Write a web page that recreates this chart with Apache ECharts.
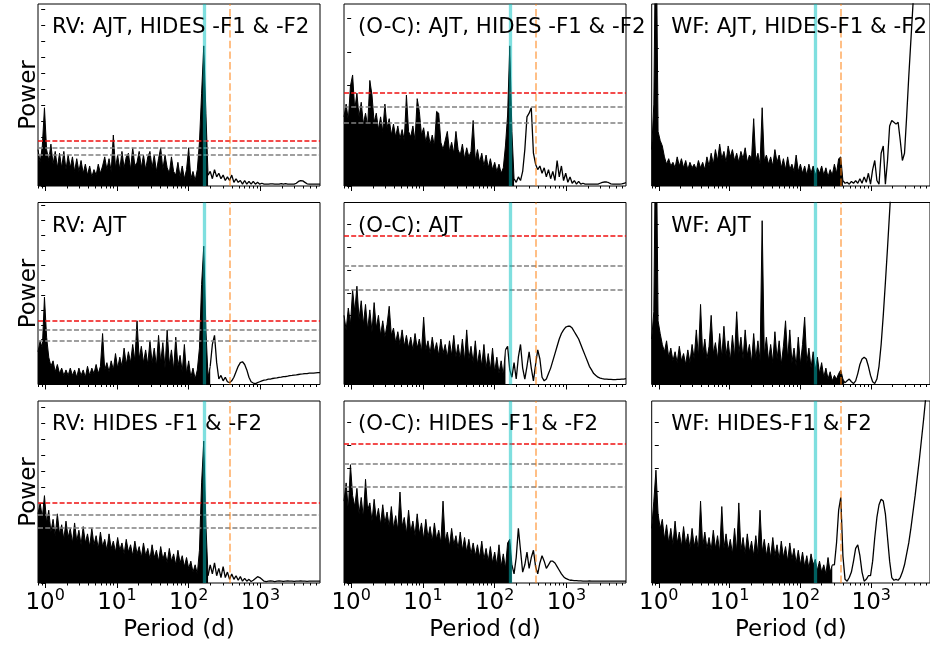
<!DOCTYPE html>
<html>
<head>
<meta charset="utf-8">
<script src="https://cdn.jsdelivr.net/npm/echarts@6/dist/echarts.min.js"></script>
<style>
  html, body { margin: 0; padding: 0; background: #fff; }
  #chart { width: 930px; height: 647px; }
</style>
</head>
<body>
<div id="chart"></div>
<script>
// GLS periodograms, each sampled on a uniform grid in log10(period / d):
// sample i sits at log10 P = LOGP_START + i * LOGP_STEP.
const LOGP_START = -0.1;
const LOGP_STEP = 0.03;
const LOGP_MIN = -0.1;
const LOGP_MAX = 3.83;

// Relative power (per cent of the plotted range) for every panel.
const rvAllPower = [
  20,13,22,43,20,14,23,12,19,10, 18,10,19,9,17,10,16,8,15,8,
  14,7,12,6,11,5,9,6,12,7, 11,16,9,15,8,28,10,17,9,19,
  10,16,18,9,21,11,13,19,10,17, 9,16,19,10,17,8,15,21,9,17,
  10,7,16,8,6,13,5,11,4,9, 21,4,8,3,9,24,51,77,40,6,
  8,4,9,5,7,4,6,3,5,3, 6,2,4,2,3,1,3,1,2.5,1,
  2.5,1,2,1,1.5,1,1,1,1.2,1.2, 1,1,1,1.3,1,1.3,1,1,1,1,
  1.5,2.5,3,2.8,2,1.2,1,1,1,1, 1,1
];
const ocAllPower = [
  38,45,36,55,61,42,51,38,46,34, 40,33,58,50,35,40,31,38,30,45,
  32,37,28,34,27,33,26,31,25,50, 30,27,33,25,48,41,28,32,24,30,
  23,28,22,41,40,24,20,25,30,19, 24,18,30,20,17,23,15,21,16,19,
  36,14,20,13,18,11,17,10,15,9, 13,8,12,7,10,22,39,77,30,4,
  2,5,3,8,20,38,40,43,18,12, 9,11,7,10,5,9,4,8,3,14,
  5,11,3,7,2,5,1.5,3,1,2.5, 1,1.5,1,1,1,1,1,1,1,1.5,
  2,2.2,2.2,1.8,1.2,1,1,1,1,1.2, 1.5,1.8
];
const wfAllPower = [
  20,45,160,30,25,22,16,12,15,11, 13,10,16,11,15,10,14,9,13,10,
  12,9,14,10,13,9,16,11,18,12, 20,14,23,15,19,13,22,16,20,14,
  18,13,19,15,21,13,17,15,37,14, 18,12,43,14,17,12,16,11,20,13,
  17,10,15,9,16,9,12,8,17,8, 12,7,11,6,12,7,11,6,10,7,
  11,6,10,5,9,6,12,7,15,16, 3,1.5,2,1,2.5,1.5,3,1.5,4,1.5,
  5,2,7,1,9,14,3,1,18,22, 1,14,33,36,35,34,35,25,14,18,
  38,60,80,100,125,150,180,210,240,270, 300,330
];
const rvAjtPower = [
  18,24,20,48,26,15,10,13,7,11, 6,9,5,8,5,9,5,8,4,9,
  5,8,4,10,5,9,6,11,6,10, 28,8,12,7,13,8,17,9,15,10,
  20,11,18,12,22,13,35,14,21,12, 19,11,24,12,20,10,27,12,23,9,
  30,11,19,8,26,10,16,7,22,6, 13,4,9,3,8,20,55,76,30,4,
  10,22,27,12,3,5,2,4,1.5,1, 2,4,7,10,12,12.5,11,8,4,1.5,
  0.8,0.5,1,1.5,2,2.4,2.6,2.9,3,3.3, 3.5,3.6,3.9,4,4.3,4.4,4.6,4.9,5,5.2,
  5.3,5.5,5.7,5.8,6,6,6.2,6.3,6.3,6.4, 6.5,6.5
];
const ocAjtPower = [
  38,30,42,33,52,40,54,36,46,33, 44,30,41,29,45,31,38,27,35,26,
  33,43,27,31,23,29,22,30,21,27, 20,26,19,28,20,25,18,37,19,24,
  17,26,18,23,16,25,17,22,15,24, 16,27,15,22,14,25,13,30,14,21,
  12,24,11,19,10,22,9,17,8,20, 7,15,6,13,5,19,21,8,4,12,
  3,15,22,9,3,10,18,9,2,11, 19,14,4,2,3,6,9,13,17,21,
  25,28,30,31.5,32,32,31,29,27,25, 22,19,16,13,10,8,6,5,4,3.5,
  3.2,3,3,2.8,2.8,2.7,2.7,2.8,2.8,3, 3,3.2
];
const wfAjtPower = [
  25,40,160,35,28,22,18,24,15,20, 13,18,12,21,13,17,11,19,12,22,
  14,30,15,44,16,25,14,21,38,17, 23,14,28,15,32,16,24,13,27,15,
  40,17,26,14,30,16,22,12,28,14, 24,13,90,16,26,13,22,12,29,14,
  24,11,21,35,14,30,12,20,10,26, 11,22,37,12,20,9,18,8,15,6,
  12,4,9,3,7,2,5,3,6,8, 3,1,2,3,1.5,0.5,2,6,11,14,
  15,14,10,5,1.5,0.5,3,10,22,38, 56,75,95,115,135,150,170,190,210,230,
  250,270,290,310,330,350,370,390,410,430, 450,470
];
const rvHidesPower = [
  38,44,36,48,33,40,28,35,26,38, 27,32,24,34,25,30,22,33,23,29,
  21,31,22,27,20,30,21,26,19,28, 20,24,18,27,19,23,17,25,18,22,
  16,24,17,21,15,23,16,20,14,22, 15,19,13,21,14,18,12,20,13,17,
  11,19,12,16,10,18,11,15,9,14, 8,12,6,10,5,18,55,78,32,4,
  10,5,11,4,8,3,9,3,6,2, 5,2,4,1.5,3.5,1,2.5,1,2,0.8,
  1.5,2.5,3.5,3,2,1,0.8,1,1.2,1, 0.8,1,1.1,1,0.9,1,1.1,1,1,0.9,
  1,1,1.1,1,1,0.9,1,1,1,1, 1,1
];
const ocHidesPower = [
  45,55,40,65,48,42,52,38,47,36, 57,40,44,34,46,35,41,32,43,33,
  39,31,42,30,37,29,50,31,36,27, 40,28,34,26,38,27,33,24,35,25,
  31,23,33,24,29,22,45,23,28,20, 30,21,26,19,28,18,25,17,24,16,
  22,15,21,14,23,13,19,12,20,11, 17,10,21,9,16,8,22,24,10,5,
  14,30,18,6,10,17,8,14,18,9, 5,11,15,12,8,10,12,12,11,9,
  7,5,3.5,2.5,2,1.5,1.5,1.3,1.3,1.2, 1.2,1,1,1,1.1,1,1,1,1,1,
  1,1,1,1,1,1,1,1,1,1, 1,1
];
const wfHidesPower = [
  30,45,62,38,30,35,24,32,22,30, 21,34,22,28,20,31,21,27,19,30,
  20,26,18,45,20,28,19,25,18,29, 19,26,17,42,19,27,18,24,16,30,
  17,44,18,25,16,27,17,23,15,26, 16,40,17,24,15,22,14,25,15,21,
  13,23,14,20,12,22,13,19,11,18, 10,17,9,15,8,16,10,13,7,12,
  6,10,5,14,6,10,10,22,40,47, 15,2,1,3,6,12,19,21,15,6,
  1,2,4,4,12,25,36,43,46,45, 38,25,12,3,1.5,2,1.5,3,6,10,
  16,22,30,39,48,58,68,79,90,102, 115,128
];

// False-alarm-probability levels (red, grey, grey) for the RV and O-C panels.
const rvAllFap = [24.7, 21.0, 16.9];
const ocAllFap = [51.3, 43.6, 35.0];
const rvAjtFap = [35.2, 30.0, 23.8];
const ocAjtFap = [81.9, 65.0, 52.2];
const rvHidesFap = [44.0, 37.4, 30.2];
const ocHidesFap = [76.4, 65.4, 52.7];

// Reference periods (d): planet signal (cyan) and the orange dashed marker.
const markPeriods = [162, 373];

const panelTitles = [
  'RV: AJT, HIDES -F1 & -F2', '(O-C): AJT, HIDES -F1 & -F2', 'WF: AJT, HIDES-F1 & -F2',
  'RV: AJT', '(O-C): AJT', 'WF: AJT',
  'RV: HIDES -F1 & -F2', '(O-C): HIDES -F1 & -F2', 'WF: HIDES-F1 & F2'
];
const xTickBase = '10';
const xTickExponents = [0, 1, 2, 3];

// ---- layout & styling -------------------------------------------------
const FONT = 'DejaVu Sans';
const COL_LEFT = [38, 344, 651.7];
const TITLE_INSET = [14, 14, 19.5];
const ROW_TOP = [4, 202.5, 401];
const PANEL_W = 282, PANEL_H = 182;

const panelPower = [rvAllPower, ocAllPower, wfAllPower, rvAjtPower, ocAjtPower, wfAjtPower,
                    rvHidesPower, ocHidesPower, wfHidesPower];
const panelFap = [rvAllFap, ocAllFap, null, rvAjtFap, ocAjtFap, null, rvHidesFap, ocHidesFap, null];
// last sample index of the dense (filled) part of each periodogram
const fillEnd = [79, 79, 90, 80, 75, 91, 79, 78, 85];
// spacing of the unlabelled power ticks
const yTickStep = [8.85, 18.4, 12.6, 8.2, 12.6, 12.6, 8.8, 12.6, 12.6];

const minorTicks = [];
for (let n = -1; n <= 3; n++) {
  for (let k = 2; k <= 9; k++) {
    const v = Math.log10(k * Math.pow(10, n));
    if (v > LOGP_MIN && v < LOGP_MAX) minorTicks.push(v);
  }
}

const grids = [], xAxes = [], yAxes = [], series = [], titles = [];

function markSeries(k, z, items) {
  return {
    type: 'line', xAxisIndex: 2 * k, yAxisIndex: k, data: [], z: z,
    symbol: 'none', animation: false, silent: true,
    markLine: { symbol: ['none', 'none'], silent: true, animation: false,
      label: { show: false }, emphasis: { disabled: true }, data: items }
  };
}

panelPower.forEach((power, k) => {
  const r = Math.floor(k / 3), c = k % 3;
  const bottomRow = r === 2;
  grids.push({
    left: COL_LEFT[c], top: ROW_TOP[r], width: PANEL_W, height: PANEL_H,
    show: true, borderColor: '#000', borderWidth: 1, backgroundColor: 'transparent'
  });

  // major ticks (decades) with 10^n labels on the bottom row
  xAxes.push({
    gridIndex: k, type: 'value', position: 'bottom', min: LOGP_MIN, max: LOGP_MAX,
    axisLine: { show: false }, splitLine: { show: false },
    axisTick: { show: true, customValues: xTickExponents, length: 5, lineStyle: { color: '#000', width: 1 } },
    axisLabel: bottomRow ? {
      show: true, customValues: xTickExponents, margin: 5,
      formatter: v => '{b|' + xTickBase + '}{s|' + Math.round(v) + '}',
      rich: {
        b: { fontFamily: FONT, fontSize: 23, color: '#000', lineHeight: 27, verticalAlign: 'bottom' },
        s: { fontFamily: FONT, fontSize: 16, color: '#000', lineHeight: 16, verticalAlign: 'top' }
      }
    } : { show: false },
    name: bottomRow ? 'Period (d)' : '',
    nameLocation: 'middle', nameGap: 36,
    nameTextStyle: { fontFamily: FONT, fontSize: 23, color: '#000' }
  });
  // minor ticks (2..9 within each decade)
  xAxes.push({
    gridIndex: k, type: 'value', position: 'bottom', min: LOGP_MIN, max: LOGP_MAX,
    axisLine: { show: false }, splitLine: { show: false },
    axisTick: { show: true, customValues: minorTicks, length: 2.5, lineStyle: { color: '#000', width: 1 } },
    axisLabel: { show: false }
  });

  const yTicks = [];
  for (let t = 0; t <= 100.01; t += yTickStep[k]) yTicks.push(t);
  yAxes.push({
    gridIndex: k, type: 'value', position: 'left', min: 0, max: 100,
    axisLine: { show: false }, splitLine: { show: false },
    axisTick: { show: true, customValues: yTicks, length: 4, lineStyle: { color: '#000', width: 1 } },
    axisLabel: { show: false },
    name: c === 0 ? 'Power' : '',
    nameLocation: 'middle', nameGap: -3, nameRotate: 90,
    nameTextStyle: { fontFamily: FONT, fontSize: 23, color: '#000' }
  });

  const pts = power.map((p, i) => [LOGP_START + i * LOGP_STEP, p]);
  const common = {
    type: 'line', xAxisIndex: 2 * k, yAxisIndex: k, symbol: 'none', showSymbol: false,
    animation: false, silent: true, clip: true
  };
  series.push(Object.assign({}, common, {
    data: pts.slice(0, fillEnd[k] + 1), z: 2,
    lineStyle: { color: '#000', width: 1 },
    areaStyle: { color: '#000', opacity: 1 }
  }));
  series.push(Object.assign({}, common, {
    data: pts.slice(fillEnd[k]), z: 2,
    lineStyle: { color: '#000', width: 1.3 }
  }));

  if (panelFap[k]) {
    const lv = panelFap[k];
    series.push(markSeries(k, 4, lv.slice(1).map(v => ({
      yAxis: v, lineStyle: { color: '#808080', width: 1.5, type: [5, 2.2] }
    }))));
    series.push(markSeries(k, 4, [{
      yAxis: lv[0], lineStyle: { color: '#f01010', width: 1.5, type: [5, 2.2] }
    }]));
  }
  series.push(markSeries(k, 5, [{
    xAxis: Math.log10(markPeriods[0]),
    lineStyle: { color: '#00bfbf', width: 3.3, type: 'solid', opacity: 0.5 }
  }]));
  series.push(markSeries(k, 5, [{
    xAxis: Math.log10(markPeriods[1]),
    lineStyle: { color: '#ff7f0e', width: 2, type: [7.4, 3.2], opacity: 0.5 }
  }]));

  titles.push({
    text: panelTitles[k], left: COL_LEFT[c] + TITLE_INSET[c], top: ROW_TOP[r] + 13, padding: 0,
    textStyle: { fontFamily: FONT, fontSize: 21.3, fontWeight: 'normal', color: '#000' }
  });
});

const chart = echarts.init(document.getElementById('chart'), null, { renderer: 'canvas' });
chart.setOption({
  backgroundColor: '#fff',
  animation: false,
  title: titles,
  grid: grids,
  xAxis: xAxes,
  yAxis: yAxes,
  series: series
});
</script>
</body>
</html>
